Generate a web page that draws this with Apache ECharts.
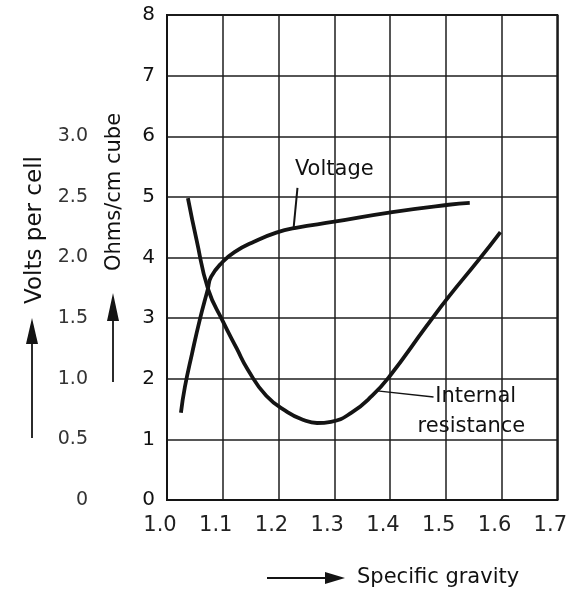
<!DOCTYPE html>
<html>
<head>
<meta charset="utf-8">
<script src="https://cdn.jsdelivr.net/npm/echarts@6/dist/echarts.min.js"></script>
<style>
  html, body { margin: 0; padding: 0; background: #fff; }
  #main { width: 570px; height: 594px; }
</style>
</head>
<body>
<div id="main"></div>
<script>
// specific gravity vs voltage / internal resistance
var FONT = '"DejaVu Sans", "Liberation Sans", Arial, sans-serif'
var INK = '#141414'

// voltage curve (volts per cell)
var voltageGravity = [1.025, 1.032, 1.045, 1.059, 1.073, 1.079, 1.10, 1.121, 1.156, 1.196, 1.231, 1.30, 1.404, 1.505, 1.543]
var voltageValues = [0.72, 0.93, 1.21, 1.49, 1.735, 1.84, 1.965, 2.045, 2.13, 2.205, 2.245, 2.295, 2.375, 2.435, 2.45]

// internal resistance curve (ohms/cm cube)
var resistGravity = [1.0375, 1.053, 1.074, 1.10, 1.125, 1.145, 1.178, 1.216, 1.245, 1.269, 1.294, 1.331, 1.368, 1.40, 1.464, 1.505, 1.559, 1.598]
var resistValues = [4.98, 4.29, 3.47, 2.95, 2.50, 2.15, 1.72, 1.45, 1.32, 1.27, 1.29, 1.44, 1.72, 2.05, 2.85, 3.35, 3.96, 4.42]

function pairs (xs, ys) {
  var out = []
  for (var i = 0; i < xs.length; i++) out.push([xs[i], ys[i]])
  return out
}

var chart = echarts.init(document.getElementById('main'))

var option = {
  animation: false,
  grid: {
    left: 167, right: 10, top: 15, bottom: 94,
    show: true, borderColor: INK, borderWidth: 2
  },
  xAxis: {
    type: 'value', min: 1.0, max: 1.7, interval: 0.1,
    axisLine: { show: true, lineStyle: { color: INK, width: 2 } },
    axisTick: { show: false },
    splitLine: { show: true, lineStyle: { color: '#1e1e1e', width: 1.5 } },
    axisLabel: {
      formatter: function (v) { return v.toFixed(1) },
      fontSize: 21, color: '#222', fontFamily: FONT,
      margin: 15, padding: [0, 14, 0, 0],
      showMaxLabel: true, showMinLabel: true
    }
  },
  yAxis: [
    {
      type: 'value', min: 0, max: 8, interval: 1,
      axisLine: { show: true, lineStyle: { color: INK, width: 2 } },
      axisTick: { show: false },
      splitLine: { show: true, lineStyle: { color: '#1e1e1e', width: 1.5 } },
      axisLabel: { fontSize: 20, color: '#111', fontFamily: FONT, margin: 12 }
    },
    {
      type: 'value', min: 0, max: 4, interval: 0.5,
      position: 'left', offset: 71,
      axisLine: { show: false }, axisTick: { show: false }, splitLine: { show: false },
      axisLabel: {
        fontSize: 19, color: '#333', fontFamily: FONT, margin: 8,
        formatter: function (v) {
          if (v === 0) return '0'
          if (v > 3) return ''
          return v.toFixed(1)
        }
      }
    }
  ],
  series: [
    {
      name: 'Voltage', type: 'line', yAxisIndex: 1,
      data: pairs(voltageGravity, voltageValues),
      smooth: 0.5, showSymbol: false, symbol: 'none',
      lineStyle: { color: INK, width: 3.8 }
    },
    {
      name: 'Internal resistance', type: 'line', yAxisIndex: 0,
      data: pairs(resistGravity, resistValues),
      smooth: 0.5, showSymbol: false, symbol: 'none',
      lineStyle: { color: INK, width: 3.8 }
    }
  ]
}
chart.setOption(option)

// 标注 (annotations) positioned from data coords
function px (x, y) { return chart.convertToPixel({ seriesIndex: 1 }, [x, y]) }
var vA = px(1.227, 4.48), vB = px(1.234, 5.15), vT = px(1.30, 5.45)
var rA = px(1.377, 1.80), rB = px(1.478, 1.70), rT = px(1.481, 1.70), rT2 = px(1.546, 1.21)

function arrowUp (x, tip, tail, head) {
  return [
    { type: 'line', shape: { x1: x, y1: tail, x2: x, y2: tip + head - 2 }, style: { stroke: INK, lineWidth: 1.8 } },
    { type: 'polygon', shape: { points: [[x, tip], [x - 6, tip + head], [x + 6, tip + head]] }, style: { fill: INK } }
  ]
}

var txt = { fill: '#111', font: '21px ' + FONT }
var graphics = [
  { type: 'line', shape: { x1: vA[0], y1: vA[1], x2: vB[0], y2: vB[1] }, style: { stroke: INK, lineWidth: 2 } },
  { type: 'text', x: vT[0], y: vT[1], style: Object.assign({ text: 'Voltage', align: 'center', verticalAlign: 'middle' }, txt) },
  { type: 'line', shape: { x1: rA[0], y1: rA[1], x2: rB[0], y2: rB[1] }, style: { stroke: INK, lineWidth: 1.5 } },
  { type: 'text', x: rT[0], y: rT[1], style: Object.assign({ text: 'Internal', align: 'left', verticalAlign: 'middle' }, txt) },
  { type: 'text', x: rT2[0], y: rT2[1], style: Object.assign({ text: 'resistance', align: 'center', verticalAlign: 'middle' }, txt) },
  // axis titles
  { type: 'text', x: 35, y: 230, rotation: Math.PI / 2, style: { text: 'Volts per cell', align: 'center', verticalAlign: 'middle', fill: '#111', font: '23px ' + FONT } },
  { type: 'text', x: 115, y: 192, rotation: Math.PI / 2, style: Object.assign({ text: 'Ohms/cm cube', align: 'center', verticalAlign: 'middle' }, txt) },
  { type: 'text', x: 357, y: 578, style: Object.assign({ text: 'Specific gravity', align: 'left', verticalAlign: 'middle' }, txt) },
  { type: 'line', shape: { x1: 267, y1: 578, x2: 330, y2: 578 }, style: { stroke: INK, lineWidth: 1.8 } },
  { type: 'polygon', shape: { points: [[345, 578], [325, 572], [325, 584]] }, style: { fill: INK } }
].concat(arrowUp(32, 318, 438, 26), arrowUp(113, 293, 382, 28))

chart.setOption({ graphic: graphics })
</script>
</body>
</html>
